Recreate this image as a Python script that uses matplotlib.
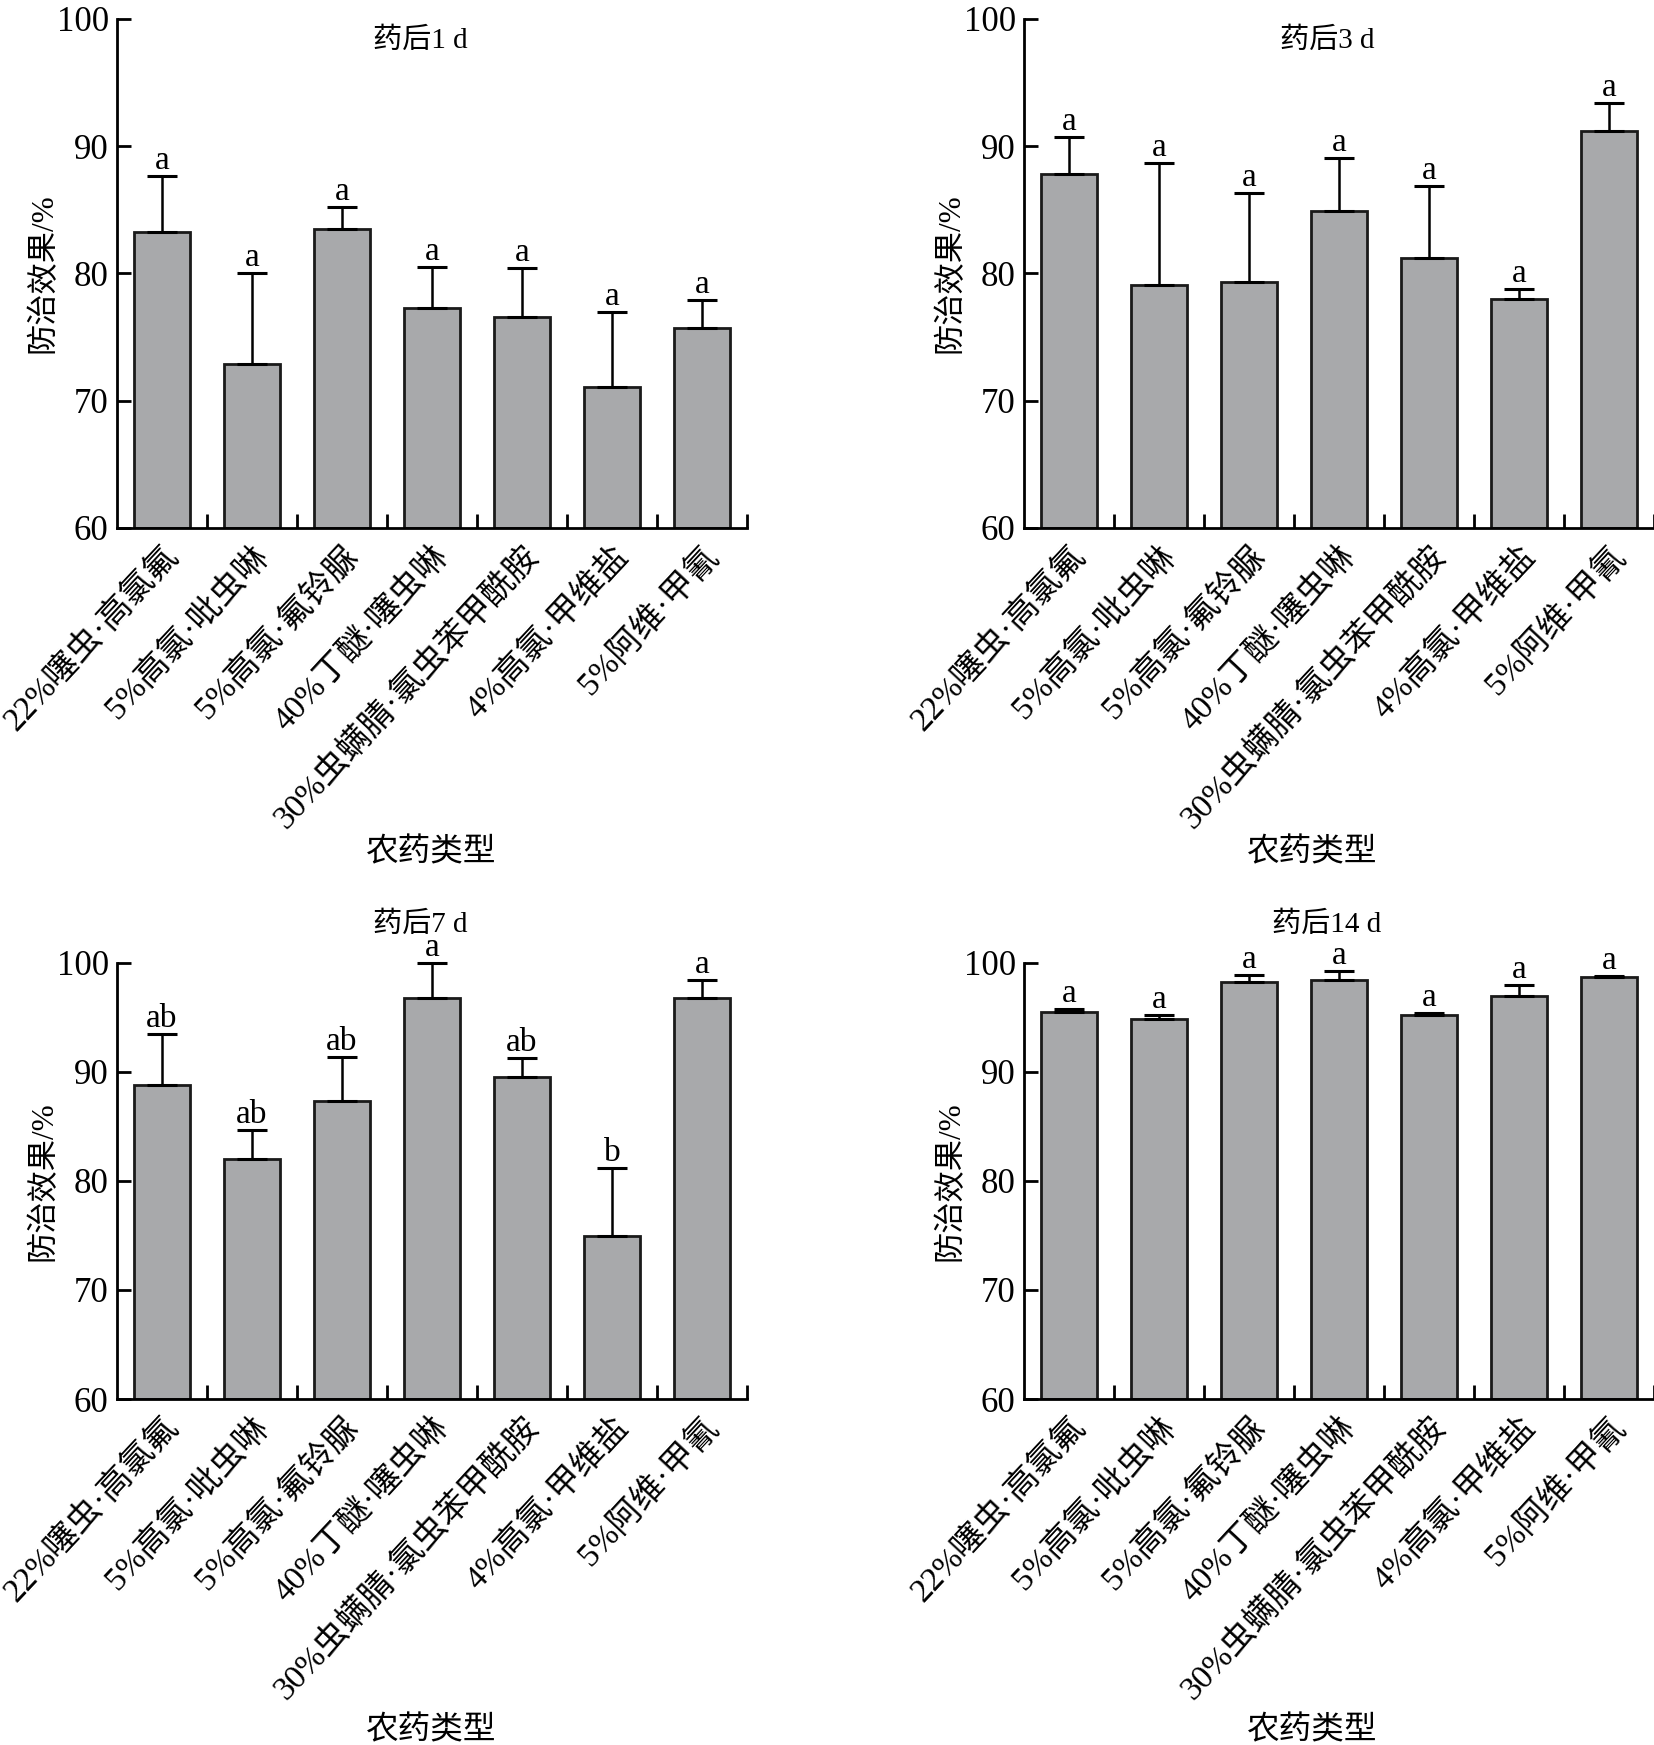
import matplotlib
matplotlib.use("Agg")
import matplotlib.pyplot as plt
import numpy as np

plt.rcParams['font.family'] = ['Liberation Serif', 'Noto Sans CJK SC', 'DejaVu Sans']

labels = ["22%噻虫·高氯氟", "5%高氯·吡虫啉", "5%高氯·氟铃脲", "40%丁醚·噻虫啉",
          "30%虫螨腈·氯虫苯甲酰胺", "4%高氯·甲维盐", "5%阿维·甲氰"]

titles = ["药后1 d", "药后3 d", "药后7 d", "药后14 d"]

mean_1d = [83.3, 72.9, 83.5, 77.3, 76.6, 71.1, 75.7]
err_1d = [4.4, 7.1, 1.7, 3.2, 3.8, 5.9, 2.2]
sig_1d = ["a", "a", "a", "a", "a", "a", "a"]

mean_3d = [87.8, 79.1, 79.3, 84.9, 81.2, 78.0, 91.2]
err_3d = [2.9, 9.6, 7.0, 4.2, 5.7, 0.8, 2.2]
sig_3d = ["a", "a", "a", "a", "a", "a", "a"]

mean_7d = [88.8, 82.0, 87.3, 96.8, 89.5, 75.0, 96.8]
err_7d = [4.7, 2.7, 4.1, 3.2, 1.8, 6.2, 1.6]
sig_7d = ["ab", "ab", "ab", "a", "ab", "b", "a"]

mean_14d = [95.5, 94.9, 98.3, 98.4, 95.2, 97.0, 98.7]
err_14d = [0.3, 0.3, 0.6, 0.9, 0.2, 1.0, 0.1]
sig_14d = ["a", "a", "a", "a", "a", "a", "a"]

yticks = [60, 70, 80, 90, 100]

panels = [
    (mean_1d, err_1d, sig_1d, titles[0]),
    (mean_3d, err_3d, sig_3d, titles[1]),
    (mean_7d, err_7d, sig_7d, titles[2]),
    (mean_14d, err_14d, sig_14d, titles[3]),
]

W, H = 1654, 1745
fig = plt.figure(figsize=(W / 100, H / 100), dpi=100)

axw = 630 / W
top_rect = (19, 528)
bot_rect = (963, 1399)
lefts = [117 / W, 1024 / W]

positions = [
    (lefts[0], top_rect), (lefts[1], top_rect),
    (lefts[0], bot_rect), (lefts[1], bot_rect),
]

bar_color = "#a8a9ab"
edge_color = "#1a1a1a"

for i, ((mean, err, sig, title), (left, (ytop, ybot))) in enumerate(zip(panels, positions)):
    bottom = 1 - ybot / H
    height = (ybot - ytop) / H
    ax = fig.add_axes([left, bottom, axw, height])
    x = np.arange(len(labels))
    ax.bar(x, np.array(mean) - 60, bottom=60, width=0.63, color=bar_color,
           edgecolor=edge_color, linewidth=2, zorder=2)
    ax.errorbar(x, mean, yerr=[np.zeros(len(err)), err], fmt='none', ecolor='black',
                elinewidth=1.8, capsize=10.5, capthick=2.2, zorder=3, clip_on=False)
    for xi, m, e, s in zip(x, mean, err, sig):
        ax.annotate(s, (xi, m + e), xytext=(0, 0), textcoords='offset points',
                    ha='center', va='bottom', fontsize=24, annotation_clip=False)
    ax.set_xlim(-0.5, len(labels) - 0.5)
    ax.set_ylim(60, 100)
    ax.set_yticks(yticks)
    ax.set_yticklabels([str(v) for v in yticks], fontsize=25)
    ax.set_xticks(x)
    ax.set_xticklabels(labels, rotation=47, ha='right', va='top',
                       rotation_mode='anchor', fontsize=24)
    ax.tick_params(axis='x', which='major', length=0, pad=9)
    ax.set_xticks(np.arange(len(labels)) + 0.5, minor=True)
    ax.tick_params(axis='x', which='minor', direction='in', length=10, width=2)
    ax.tick_params(axis='y', direction='in', length=10, width=2, pad=6)
    for side in ['top', 'right']:
        ax.spines[side].set_visible(False)
    for side in ['left', 'bottom']:
        ax.spines[side].set_linewidth(2)
    ax.set_ylabel("防治效果/%", fontsize=22.5)
    ax.yaxis.set_label_coords(-58 / 630, 0.5)
    ax.set_xlabel("农药类型", fontsize=23.5)
    hpx = ybot - ytop
    xl = 0.498 if i % 2 == 0 else 0.457
    if i < 2:
        ax.xaxis.set_label_coords(xl, -310 / hpx)
        ax.text(0.481, 1 - 22 / hpx, title, transform=ax.transAxes, ha='center',
                va='center', fontsize=21)
    else:
        ax.xaxis.set_label_coords(xl, -317 / hpx)
        ax.text(0.481, 1 + 38 / hpx, title, transform=ax.transAxes, ha='center',
                va='center', fontsize=21)

fig.savefig("out.png", dpi=100)
